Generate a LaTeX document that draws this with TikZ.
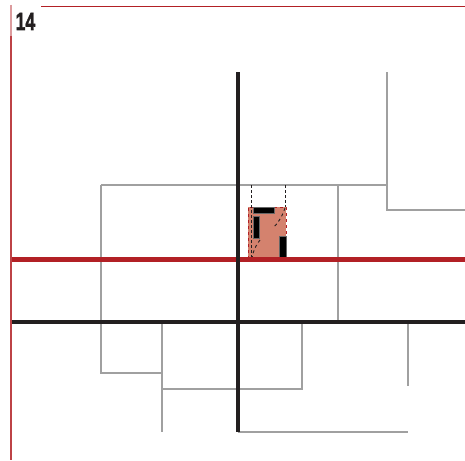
\documentclass[tikz,border=0pt]{standalone}
\usepackage{fontspec}
\setmainfont{Liberation Sans}
\newfontfamily\numfont[FakeBold=2.2]{Liberation Sans Bold}
\begin{document}
\begin{tikzpicture}[x=1pt,y=-1pt]
    \definecolor{myred}{RGB}{178,32,37}
    \definecolor{myblk}{RGB}{35,31,32}
    \definecolor{mygry}{RGB}{160,160,160}
    \definecolor{mysal}{RGB}{212,130,110}

    \useasboundingbox (0,0) rectangle (465,460);

    % frame and number
    \draw[myred!45, line width=1.3pt] (11,5) -- (11,36);
    \draw[myred!85, line width=1.3pt] (11,36) -- (11,460);
    \draw[myred, line width=1.5pt] (41,6.5) -- (465,6.5);
    \node[anchor=base west, inner sep=0pt, text=myblk,
          font=\numfont\fontsize{25}{25}\selectfont] (num) at (15.5,30) {\scalebox{0.7}[1]{14}};

    % thin gray lines
    \draw[mygry, line width=1.3pt] (101,185) -- (387,185);
    \draw[mygry, line width=1.3pt] (387,72) -- (387,210) -- (465,210);
    \draw[mygry, line width=1.3pt] (338,185) -- (338,322);
    \draw[mygry, line width=1.3pt] (101,185) -- (101,373) -- (162,373);
    \draw[mygry, line width=1.3pt] (162,322) -- (162,432);
    \draw[mygry, line width=1.3pt] (162,389) -- (302,389) -- (302,322);
    \draw[mygry, line width=1.3pt] (238,432) -- (408,432);
    \draw[mygry, line width=1.3pt] (408,322) -- (408,386);

    % shaded patch
    \fill[mysal] (248,207) rectangle (286,259);
    \draw[myred, dashed, line width=0.8pt] (248,259) -- (248,207) -- (286,207) -- (286,259);
    \draw[myblk, dash pattern=on 3pt off 2pt, line width=0.9pt] (251,185) -- (251,258);
    \draw[myblk, dash pattern=on 3pt off 2pt, line width=0.9pt] (285,185) -- (285,207);
    \draw[myblk, dash pattern=on 3pt off 3pt, line width=0.9pt]
        (285,208) .. controls (282,217) and (278,223) .. (273,228);
    \draw[myblk, dash pattern=on 3pt off 3pt, line width=0.9pt]
        (260,240) .. controls (256,245) and (253,251) .. (252,258);
    \fill[black, draw=black!60, line width=0.4pt] (253,207) rectangle (274,213);
    \fill[black, draw=black!60, line width=0.4pt] (253,216) rectangle (259,238);
    \fill[black, draw=black!60, line width=0.4pt] (279,236) rectangle (286,258);

    % main axes
    \draw[myred, line width=4.3pt] (12,259.5) -- (465,259.5);
    \draw[myblk, line width=3.7pt] (12,322) -- (465,322);
    \draw[myblk, line width=3.7pt] (238,72) -- (238,432);
\end{tikzpicture}
\end{document}
